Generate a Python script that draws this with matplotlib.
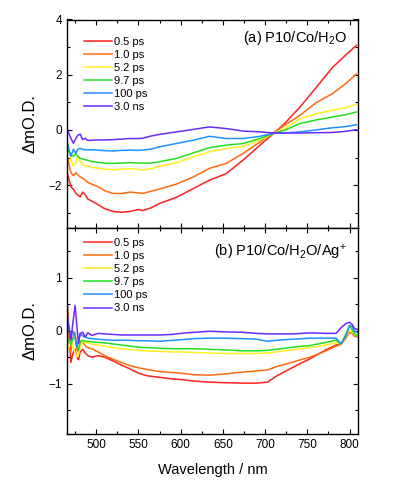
import matplotlib
matplotlib.use("Agg")
import matplotlib.pyplot as plt
from matplotlib.ticker import MultipleLocator

plt.rcParams['font.family'] = ['Liberation Sans', 'DejaVu Sans']
plt.rcParams['mathtext.fontset'] = 'custom'
plt.rcParams['mathtext.rm'] = 'Liberation Sans'
plt.rcParams['mathtext.it'] = 'Liberation Sans'

labels = ["0.5 ps", "1.0 ps", "5.2 ps", "9.7 ps", "100 ps", "3.0 ns"]
colors = ["#ff2020", "#ff6a10", "#ffee20", "#20e020", "#2090ff", "#6a2aff"]

# Panel (a): P10/Co/H2O
wl_a = [466, 470, 473, 476, 478, 481, 484, 487, 490, 496, 502, 510, 520, 530, 540,
        550, 555, 565, 575, 595, 615, 634, 654, 674, 694, 710, 723, 741, 760, 780,
        795, 808]
a_05ps = [-1.6, -2.05, -2.15, -2.3, -2.35, -2.42, -2.25, -2.35, -2.5, -2.6, -2.7, -2.85,
          -2.95, -2.98, -2.95, -2.88, -2.92, -2.82, -2.66, -2.44, -2.12, -1.82, -1.58,
          -1.09, -0.55, -0.13, 0.23, 0.82, 1.52, 2.27, 2.7, 3.06]
a_10ps = [-1.0, -1.55, -1.65, -1.55, -1.62, -1.7, -1.75, -1.82, -1.9, -1.98, -2.05, -2.2,
          -2.3, -2.3, -2.25, -2.28, -2.3, -2.22, -2.14, -1.96, -1.7, -1.39, -1.21,
          -0.85, -0.43, -0.1, 0.17, 0.52, 0.98, 1.32, 1.67, 2.02]
a_52ps = [-0.5, -1.1, -1.3, -1.2, -0.95, -1.15, -1.25, -1.3, -1.3, -1.36, -1.38, -1.42,
          -1.44, -1.42, -1.4, -1.43, -1.45, -1.4, -1.31, -1.19, -0.97, -0.79, -0.67,
          -0.59, -0.37, -0.12, 0.05, 0.4, 0.58, 0.72, 0.8, 0.93]
a_97ps = [-0.72, -0.9, -0.95, -0.85, -0.95, -1.03, -1.05, -1.08, -1.1, -1.15, -1.17, -1.2,
          -1.21, -1.2, -1.18, -1.2, -1.2, -1.2, -1.15, -1.03, -0.83, -0.64, -0.55,
          -0.49, -0.31, -0.12, -0.01, 0.23, 0.36, 0.47, 0.55, 0.65]
a_100ps = [-0.5, -0.95, -0.7, -0.85, -0.7, -0.67, -0.7, -0.72, -0.72, -0.72, -0.73, -0.75,
           -0.76, -0.74, -0.73, -0.74, -0.73, -0.69, -0.61, -0.49, -0.37, -0.23, -0.31,
           -0.31, -0.23, -0.12, -0.11, -0.07, 0.0, 0.08, 0.12, 0.19]
a_3ns = [0.0, -0.3, -0.48, -0.3, -0.2, -0.15, -0.35, -0.3, -0.38, -0.37, -0.36, -0.36,
         -0.35, -0.33, -0.31, -0.31, -0.3, -0.22, -0.16, -0.07, 0.02, 0.11, 0.05,
         -0.04, -0.07, -0.11, -0.11, -0.11, -0.1, -0.09, -0.05, 0.01]

# Panel (b): P10/Co/H2O/Ag+
wl_b = [466, 468, 470, 472, 475, 477, 479, 481, 484, 487, 490, 495, 502, 510, 520, 530,
        540, 550, 560, 575, 590, 600, 615, 634, 650, 674, 690, 703, 713, 733, 753, 772,
        784, 790, 796, 800, 803, 806, 810]
b_05ps = [0.45, -0.1, -0.6, -0.45, -0.35, -0.5, -0.55, -0.4, -0.35, -0.42, -0.47, -0.5,
          -0.47, -0.5, -0.57, -0.65, -0.72, -0.8, -0.85, -0.88, -0.91, -0.92, -0.95,
          -0.97, -0.98, -0.99, -0.99, -0.97, -0.86, -0.69, -0.53, -0.36, -0.27, -0.25,
          -0.12, -0.02, -0.05, -0.1, -0.12]
b_10ps = [-0.1, -0.2, -0.4, -0.15, -0.03, -0.35, -0.4, -0.2, -0.22, -0.28, -0.32, -0.34,
          -0.4, -0.47, -0.54, -0.6, -0.66, -0.7, -0.73, -0.77, -0.79, -0.8, -0.83,
          -0.84, -0.82, -0.78, -0.76, -0.74, -0.68, -0.59, -0.5, -0.38, -0.29, -0.26,
          -0.13, -0.03, -0.04, -0.1, -0.1]
b_52ps = [-0.35, -0.3, -0.1, -0.3, -0.4, -0.5, -0.45, -0.3, -0.2, -0.22, -0.23, -0.25,
          -0.27, -0.29, -0.32, -0.34, -0.36, -0.37, -0.38, -0.39, -0.4, -0.4, -0.41,
          -0.42, -0.43, -0.43, -0.43, -0.42, -0.4, -0.36, -0.32, -0.27, -0.23, -0.25,
          -0.1, 0.0, -0.02, -0.08, -0.1]
b_97ps = [-0.15, -0.2, -0.26, -0.15, -0.14, -0.3, -0.37, -0.2, -0.18, -0.2, -0.2, -0.21,
          -0.22, -0.23, -0.25, -0.27, -0.29, -0.31, -0.32, -0.33, -0.34, -0.34, -0.34,
          -0.35, -0.36, -0.38, -0.38, -0.37, -0.35, -0.31, -0.28, -0.22, -0.18, -0.25,
          -0.05, 0.1, 0.02, -0.06, -0.1]
b_100ps = [0.25, 0.0, -0.14, 0.0, -0.1, -0.3, -0.2, -0.05, -0.1, -0.12, -0.14, -0.15,
           -0.16, -0.17, -0.18, -0.18, -0.18, -0.19, -0.19, -0.2, -0.18, -0.17, -0.15,
           -0.14, -0.14, -0.15, -0.16, -0.2, -0.18, -0.16, -0.14, -0.14, -0.14, -0.25,
           -0.09, 0.1, 0.08, -0.01, -0.04]
b_3ns = [0.16, 0.05, -0.18, 0.1, 0.48, 0.1, -0.24, -0.05, -0.03, -0.12, -0.04, -0.09,
         -0.05, -0.06, -0.07, -0.08, -0.08, -0.08, -0.08, -0.08, -0.07, -0.05, -0.03,
         -0.01, -0.02, -0.03, -0.05, -0.06, -0.06, -0.06, -0.04, -0.05, -0.05, 0.06,
         0.14, 0.16, 0.12, 0.04, 0.02]

series_a = [a_05ps, a_10ps, a_52ps, a_97ps, a_100ps, a_3ns]
series_b = [b_05ps, b_10ps, b_52ps, b_97ps, b_100ps, b_3ns]

fig = plt.figure(figsize=(3.99, 4.88), dpi=100)
L, R = 67 / 399, 358 / 399
top_a, bot_a = 1 - 19.5 / 488, 1 - 228 / 488
bot_b = 1 - 434 / 488
ax1 = fig.add_axes([L, bot_a, R - L, top_a - bot_a])
ax2 = fig.add_axes([L, bot_b, R - L, bot_a - bot_b], sharex=ax1)

for ax, wl, series, ly in [(ax1, wl_a, series_a, 0.955), (ax2, wl_b, series_b, 0.99)]:
    for lab, col, ys in zip(labels, colors, series):
        ax.plot(wl, ys, color=col, lw=1.1, label=lab)
    ax.legend(loc='upper left', bbox_to_anchor=(0.03, ly), frameon=False,
              fontsize=8, handlelength=2.6, handletextpad=0.15,
              labelspacing=0.28, borderaxespad=0.3)
    ax.tick_params(direction='in', which='both', top=True, right=True,
                   labelsize=8.5, length=3.5, width=0.8)
    ax.tick_params(which='minor', length=2)
    ax.set_ylabel('ΔmO.D.', fontsize=12, labelpad=8)
    for s in ax.spines.values():
        s.set_linewidth(1.0)

ax1.set_xlim(465.4, 810)
ax1.xaxis.set_major_locator(MultipleLocator(50))
ax1.xaxis.set_minor_locator(MultipleLocator(25))
ax1.set_ylim(-3.55, 4)
ax1.set_yticks([-2, 0, 2, 4])
ax1.yaxis.set_minor_locator(MultipleLocator(1))
plt.setp(ax1.get_xticklabels(), visible=False)

ax2.set_ylim(-1.95, 1.94)
ax2.set_yticks([-1, 0, 1])
ax2.yaxis.set_minor_locator(MultipleLocator(0.5))
ax2.set_xlabel('Wavelength / nm', fontsize=10.5, labelpad=9)

ax1.text(0.962, 0.91, '(a) P10/Co/H$_2$O', transform=ax1.transAxes,
         ha='right', va='center', fontsize=10.5)
ax2.text(0.962, 0.88, '(b) P10/Co/H$_2$O/Ag$^{+}$', transform=ax2.transAxes,
         ha='right', va='center', fontsize=10.5)

fig.align_ylabels([ax1, ax2])
fig.savefig('out.png', dpi=100)
